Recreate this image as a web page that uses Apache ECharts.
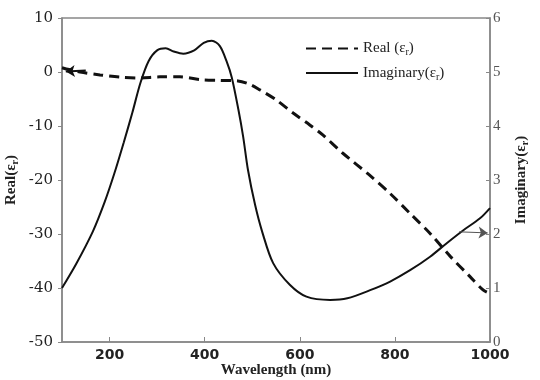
<!DOCTYPE html>
<html>
<head>
<meta charset="utf-8">
<script src="https://cdn.jsdelivr.net/npm/echarts@6/dist/echarts.min.js"></script>
<style>html,body{margin:0;padding:0;background:#fff}#c{width:540px;height:380px}</style>
</head>
<body>
<div id="c"></div>
<script>
const xTicks = [200, 400, 600, 800, 1000];
const realWavelengths = [100,115,138,180,222,264,306,348,390,432,470,495,516,551,586,621,649,690,748,790,832,874,916,958,986,1000];
const realValues = [0.8,0.45,0.0,-0.55,-0.95,-1.1,-0.9,-0.9,-1.4,-1.55,-1.65,-2.3,-3.3,-5.2,-7.6,-9.8,-11.7,-15.0,-19.2,-22.5,-26.2,-29.9,-34.1,-37.9,-40.4,-41];
const imagWavelengths = [100,130,165,190,210,230,248,265,282,300,318,335,355,378,398,415,432,446,457,471,481,491,506,521,544,579,614,664,700,748,790,832,874,909,944,979,1000];
const imagValues = [1.0,1.45,2.05,2.6,3.12,3.7,4.25,4.8,5.2,5.4,5.44,5.38,5.34,5.4,5.54,5.58,5.48,5.2,4.9,4.3,3.8,3.19,2.54,2.04,1.46,1.06,0.84,0.78,0.81,0.96,1.12,1.33,1.58,1.83,2.07,2.29,2.48];
const realArrow = [[150, 0.3], [108, 0.1]];
const imagArrow = [[935, 2.04], [995, 2.02]];

const serif = '"Liberation Serif", "DejaVu Serif", serif';
const chart = echarts.init(document.getElementById('c'), null, {renderer: 'canvas'});
const pair = (xs, ys) => xs.map((x, i) => [x, ys[i]]);
const rich = {
  t: {fontFamily: serif, fontSize: 15, color: '#222'},
  s: {fontFamily: serif, fontSize: 10, color: '#222', padding: [8, 0, 0, 0]}
};
const richBold = {
  t: {fontFamily: serif, fontSize: 15, fontWeight: 'bold', color: '#222'},
  s: {fontFamily: serif, fontSize: 10, fontWeight: 'bold', color: '#222', padding: [8, 0, 0, 0]}
};
chart.setOption({
  animation: false,
  backgroundColor: '#fff',
  grid: {left: 62, right: 50, top: 18, bottom: 38, show: true, borderColor: '#888', borderWidth: 1.5, containLabel: false, outerBoundsMode: 'none'},
  legend: {
    orient: 'vertical', left: 300, top: 36, itemWidth: 52, itemHeight: 14, itemGap: 8,
    data: ['Real', 'Imaginary'],
    itemStyle: {color: 'rgba(0,0,0,0)', borderColor: 'rgba(0,0,0,0)', borderWidth: 0},
    formatter: n => n === 'Real' ? '{t|Real (ε}{s|r}{t|)}' : '{t|Imaginary(ε}{s|r}{t|)}',
    textStyle: {fontFamily: serif, fontSize: 15, color: '#222', rich: rich}
  },
  xAxis: {
    type: 'value', min: 100, max: 1000,
    name: 'Wavelength (nm)', nameLocation: 'middle', nameGap: 21, nameMoveOverlap: false,
    nameTextStyle: {fontFamily: serif, fontWeight: 'bold', fontSize: 15, color: '#222'},
    axisLine: {onZero: false, lineStyle: {color: '#888', width: 1.5}},
    axisTick: {inside: true, length: 5, customValues: xTicks, lineStyle: {color: '#888'}},
    axisLabel: {customValues: xTicks, formatter: v => String(v), fontFamily: '"DejaVu Sans", sans-serif', fontWeight: 'bold', fontSize: 14, color: '#222', margin: 6},
    splitLine: {show: false}
  },
  yAxis: [{
    type: 'value', min: -50, max: 10, interval: 10, position: 'left',
    name: '{t|Real(ε}{s|r}{t|)}', nameLocation: 'middle', nameGap: 42, nameRotate: 90, nameMoveOverlap: false,
    nameTextStyle: {rich: richBold},
    axisLine: {show: true, onZero: false, lineStyle: {color: '#888', width: 1.5}},
    axisTick: {show: true, inside: false, length: 4, lineStyle: {color: '#888'}},
    axisLabel: {fontFamily: '"DejaVu Serif", serif', fontSize: 15, color: '#222', margin: 9},
    splitLine: {show: false}
  }, {
    type: 'value', min: 0, max: 6, interval: 1, position: 'right',
    name: '{t|Imaginary(ε}{s|r}{t|)}', nameLocation: 'middle', nameGap: 22, nameRotate: 90, nameMoveOverlap: false,
    nameTextStyle: {rich: richBold},
    axisLine: {show: true, onZero: false, lineStyle: {color: '#888', width: 1.5}},
    axisTick: {show: true, inside: true, length: 4, lineStyle: {color: '#888'}},
    axisLabel: {fontFamily: serif, fontSize: 15, color: '#555', margin: 3},
    splitLine: {show: false}
  }],
  series: [{
    name: 'Real', type: 'line', yAxisIndex: 0, smooth: 0.3, symbol: 'none',
    data: pair(realWavelengths, realValues),
    lineStyle: {color: '#111', width: 3, type: [10, 6]},
    itemStyle: {color: '#111'},
    markLine: {
      silent: true, symbol: ['none', 'arrow'], symbolSize: 9, label: {show: false},
      lineStyle: {color: '#111', width: 2, type: 'solid'},
      data: [[{coord: realArrow[0]}, {coord: realArrow[1]}]]
    }
  }, {
    name: 'Imaginary', type: 'line', yAxisIndex: 1, smooth: 0.3, symbol: 'none',
    data: pair(imagWavelengths, imagValues),
    lineStyle: {color: '#111', width: 2, type: 'solid'},
    itemStyle: {color: '#111'},
    markLine: {
      silent: true, symbol: ['none', 'arrow'], symbolSize: 9, label: {show: false},
      lineStyle: {color: '#555', width: 1, type: 'solid'},
      data: [[{coord: imagArrow[0]}, {coord: imagArrow[1]}]]
    }
  }]
});
</script>
</body>
</html>
